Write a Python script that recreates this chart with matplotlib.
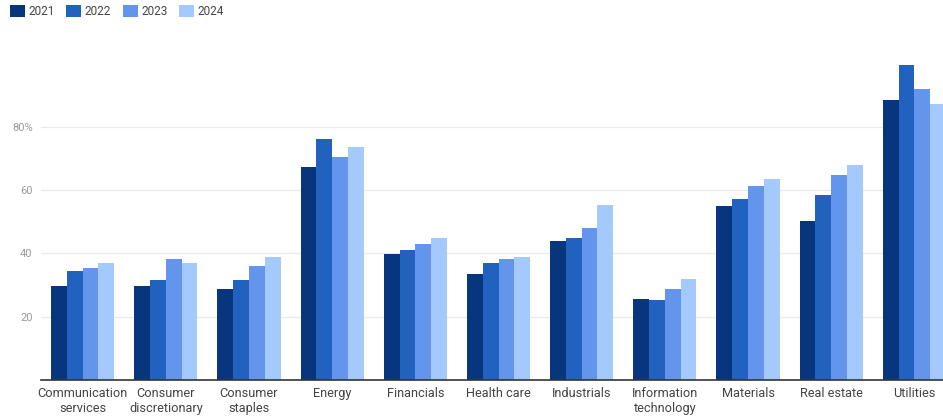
import numpy as np
import matplotlib.pyplot as plt
from matplotlib.patches import Patch

plt.rcParams['font.family'] = ['Roboto', 'DejaVu Sans']

sectors = ['Communication\nservices', 'Consumer\ndiscretionary', 'Consumer\nstaples',
           'Energy', 'Financials', 'Health care', 'Industrials',
           'Information\ntechnology', 'Materials', 'Real estate', 'Utilities']
years = ['2021', '2022', '2023', '2024']

v2021 = [29.7, 29.7, 28.8, 67.4, 39.9, 33.5, 44.0, 25.7, 55.0, 50.2, 88.3]
v2022 = [34.3, 31.7, 31.7, 76.1, 41.1, 36.8, 44.9, 25.3, 57.3, 58.4, 99.5]
v2023 = [35.3, 38.3, 35.9, 70.4, 42.8, 38.1, 47.9, 28.6, 61.4, 64.7, 91.8]
v2024 = [36.8, 36.8, 39.0, 73.5, 44.9, 39.0, 55.3, 31.8, 63.4, 67.9, 87.1]

colors = ['#07367f', '#2062bd', '#6495ec', '#a3c9fd']

W, H = 943, 416
fig = plt.figure(figsize=(W / 100, H / 100), dpi=100)
# plot area runs a little past the right edge, so the last group is cut off
ax = fig.add_axes([41 / W, 36 / H, 915 / W, 332.5 / H])

x = np.arange(len(sectors))
bw = 0.19
for i, (vals, c) in enumerate(zip([v2021, v2022, v2023, v2024], colors)):
    ax.bar(x + (i - 1.5) * bw, vals, width=bw, color=c, zorder=3)

ax.set_xlim(-0.5, len(sectors) - 0.5)
ax.set_ylim(0, 105)
ax.set_yticks([20, 40, 60, 80])
ax.set_yticklabels(['20', '40', '60', '80%'])
ax.yaxis.grid(True, color='#ebebeb', linewidth=1, zorder=0)
ax.tick_params(axis='y', length=0, pad=6, labelsize=8, labelcolor='#9a9a9a')
ax.set_xticks(x)
ax.set_xticklabels(sectors, fontsize=9.2, color='#444444', linespacing=1.2)
ax.tick_params(axis='x', length=0, pad=5)

for s in ['top', 'right', 'left']:
    ax.spines[s].set_visible(False)
ax.spines['bottom'].set_color('#333333')
ax.spines['bottom'].set_linewidth(1.2)
ax.spines['bottom'].set_zorder(4)

handles = [Patch(facecolor=c, label=y) for c, y in zip(colors, years)]
fig.legend(handles=handles, loc='upper left', bbox_to_anchor=(10 / W, 1 - 5 / H),
           ncol=4, frameon=False, fontsize=8.5, handlelength=1.25, handleheight=1.25,
           handletextpad=0.3, columnspacing=1.0, borderpad=0, borderaxespad=0,
           labelcolor='#444444')

fig.savefig('out.png', dpi=100)
